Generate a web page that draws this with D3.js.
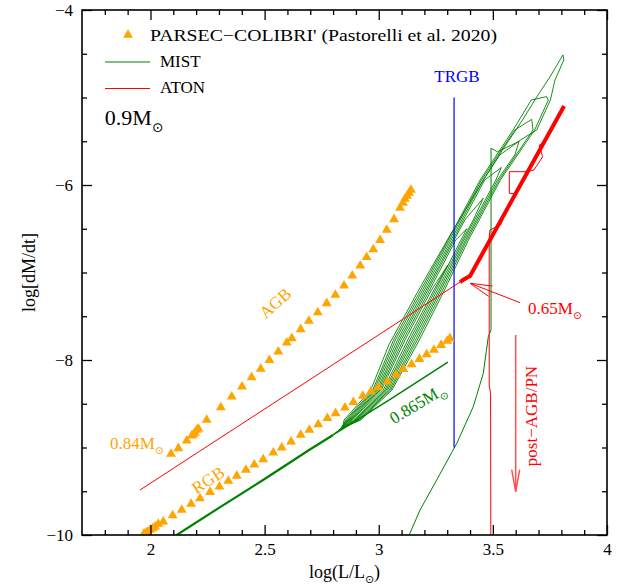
<!DOCTYPE html>
<html>
<head>
<meta charset="utf-8">
<script src="https://cdn.jsdelivr.net/npm/d3@7"></script>
<style>
  body { margin: 0; background: #fff; }
  svg { display: block; font-family: "Liberation Serif", "DejaVu Serif", serif; }
</style>
</head>
<body>
<svg id="chart" width="627" height="586"></svg>
<script>
// ---- axis ticks ----
const xMajorTicks = [2, 2.5, 3, 3.5, 4];
const xMinorTicks = [1.8, 1.9, 2.1, 2.2, 2.3, 2.4, 2.6, 2.7, 2.8, 2.9, 3.1, 3.2, 3.3, 3.4, 3.6, 3.7, 3.8, 3.9];
const yMajorTicks = [-10, -8, -6, -4];
const yMinorTicks = [-9.5, -9, -8.5, -7.5, -7, -6.5, -5.5, -5, -4.5];

// ---- PARSEC-COLIBRI' 0.84 Msun: AGB sequence ----
const parsecAgbLum  = [2.090, 2.122, 2.159, 2.181, 2.188, 2.195, 2.203, 2.210, 2.246, 2.308, 2.356, 2.401, 2.443, 2.483, 2.521, 2.560, 2.597, 2.619, 2.658, 2.694, 2.733, 2.772, 2.810, 2.848, 2.884, 2.919, 2.947, 2.976, 3.006, 3.035, 3.067, 3.093, 3.106, 3.115, 3.124, 3.133, 3.141];
const parsecAgbRate = [-9.074, -9.009, -8.922, -8.865, -8.850, -8.830, -8.800, -8.785, -8.686, -8.541, -8.419, -8.305, -8.198, -8.103, -8.003, -7.905, -7.802, -7.752, -7.649, -7.554, -7.455, -7.352, -7.257, -7.151, -7.037, -6.922, -6.826, -6.735, -6.629, -6.514, -6.392, -6.263, -6.206, -6.160, -6.126, -6.091, -6.057];

// ---- PARSEC-COLIBRI' 0.84 Msun: RGB sequence ----
const parsecRgbLum  = [1.970, 1.976, 1.985, 1.998, 2.010, 2.020, 2.034, 2.056, 2.097, 2.137, 2.178, 2.217, 2.261, 2.302, 2.341, 2.378, 2.418, 2.455, 2.494, 2.538, 2.575, 2.616, 2.658, 2.696, 2.735, 2.775, 2.811, 2.852, 2.889, 2.930, 2.965, 2.998, 3.038, 3.076, 3.108, 3.144, 3.178, 3.210, 3.242, 3.273, 3.300, 3.312];
const parsecRgbRate = [-9.990, -9.981, -9.965, -9.943, -9.925, -9.905, -9.874, -9.848, -9.775, -9.714, -9.646, -9.581, -9.509, -9.448, -9.383, -9.326, -9.257, -9.197, -9.135, -9.059, -9.002, -8.934, -8.857, -8.800, -8.735, -8.666, -8.609, -8.545, -8.483, -8.411, -8.362, -8.312, -8.248, -8.171, -8.106, -8.049, -7.989, -7.935, -7.886, -7.829, -7.783, -7.752];

// ---- MIST 0.9 Msun track ----
const mistRgbLum  = [2.115, 2.30, 2.50, 2.70, 2.80];
const mistRgbRate = [-10.0, -9.69, -9.36, -9.02, -8.857];
const mistTipLum  = [2.80, 3.05, 3.303];
const mistTipRate = [-8.857, -8.45, -8.023];
// thermal pulses on the AGB, one [logL, logMdot] list per pulse
const mistPulses = [
  [[2.800,-8.857],[2.884,-8.686],[3.011,-8.343],[3.115,-7.771],[3.231,-7.2],[3.303,-6.914],[3.242,-7.2],[3.127,-7.771],[3.020,-8.343],[2.891,-8.686],[2.806,-8.845]],
  [[2.806,-8.845],[2.879,-8.686],[3.005,-8.343],[3.107,-7.771],[3.223,-7.2],[3.337,-6.629],[3.386,-6.500],[3.360,-6.629],[3.249,-7.2],[3.136,-7.771],[3.027,-8.343],[2.896,-8.686],[2.812,-8.833]],
  [[2.812,-8.833],[2.874,-8.686],[2.999,-8.343],[3.098,-7.771],[3.215,-7.2],[3.330,-6.629],[3.377,-6.400],[3.458,-6.150],[3.414,-6.400],[3.367,-6.629],[3.257,-7.2],[3.144,-7.771],[3.033,-8.343],[2.901,-8.686],[2.818,-8.821]],
  [[2.818,-8.821],[2.870,-8.686],[2.993,-8.343],[3.090,-7.771],[3.208,-7.2],[3.324,-6.629],[3.464,-5.943],[3.537,-5.800],[3.513,-5.943],[3.373,-6.629],[3.265,-7.2],[3.152,-7.771],[3.039,-8.343],[2.906,-8.686],[2.824,-8.809]],
  [[2.824,-8.809],[2.865,-8.686],[2.986,-8.343],[3.082,-7.771],[3.200,-7.2],[3.317,-6.629],[3.457,-5.943],[3.530,-5.657],[3.615,-5.500],[3.596,-5.657],[3.520,-5.943],[3.380,-6.629],[3.272,-7.2],[3.161,-7.771],[3.046,-8.343],[2.911,-8.686],[2.830,-8.797]],
  [[2.830,-8.797],[2.860,-8.686],[2.980,-8.343],[3.073,-7.771],[3.192,-7.2],[3.310,-6.629],[3.450,-5.943],[3.596,-5.371],[3.670,-5.250],[3.676,-5.371],[3.527,-5.943],[3.386,-6.629],[3.280,-7.2],[3.169,-7.771],[3.052,-8.343],[2.916,-8.686],[2.836,-8.785]],
  [[2.836,-8.785],[2.855,-8.686],[2.974,-8.343],[3.065,-7.771],[3.184,-7.2],[3.304,-6.629],[3.444,-5.943],[3.589,-5.371],[3.668,-5.029],[3.735,-4.990],[3.743,-5.029],[3.683,-5.371],[3.533,-5.943],[3.393,-6.629],[3.288,-7.2],[3.178,-7.771],[3.058,-8.343],[2.921,-8.686],[2.842,-8.773]],
  [[2.842,-8.773],[2.848,-8.686],[2.965,-8.343],[3.044,-7.829],[3.175,-7.2],[3.318,-6.549],[3.440,-6.023],[3.542,-5.6],[3.630,-5.257],[3.692,-4.994],[3.750,-4.766],[3.807,-4.514],[3.811,-4.571],[3.772,-4.80],[3.752,-5.029],[3.692,-5.371],[3.600,-5.52],[3.520,-5.62],[3.492,-5.58]]
];
const mistPostLum  = [3.492, 3.492, 3.480, 3.458, 3.414, 3.342, 3.254, 3.181, 3.130];
const mistPostRate = [-5.58, -7.657, -7.734, -8.152, -8.534, -8.952, -9.371, -9.714, -10.02];

// ---- ATON 0.9 Msun track ----
const atonRgbLum  = [1.954, 3.356];
const atonRgbRate = [-9.486, -7.109];
const atonTpLum   = [3.356, 3.372, 3.400, 3.812];
const atonTpRate  = [-7.109, -7.080, -7.040, -5.097];
const atonLoopLum  = [3.603, 3.572, 3.572, 3.648, 3.680, 3.718, 3.703, 3.720];
const atonLoopRate = [-6.100, -6.095, -5.848, -5.848, -5.829, -5.677, -5.543, -5.520];
const atonPostLum  = [3.556, 3.534, 3.487, 3.484, 3.484, 3.490, 3.491];
const atonPostRate = [-6.305, -6.457, -6.514, -6.600, -8.286, -8.381, -10.0];

// ---- TRGB marker ----
const trgbLum = 3.33;
const trgbRate = [-9.0, -5.0];

// ---- annotation arrows [from, to] ----
const finalMassArrow = [[3.619, -7.345], [3.400, -7.123]];
const postAgbArrow   = [[3.600, -7.714], [3.600, -9.505]];

const COLORS = { parsec: "#FFA500", mist: "#008000", aton: "#FF0000", trgb: "#0000FF" };

const svg = d3.select("#chart");
const width = 627, height = 586;
const margin = { left: 82, right: 20, top: 10, bottom: 51 };

const x = d3.scaleLinear().domain([1.7, 4]).range([margin.left, width - margin.right]);
const y = d3.scaleLinear().domain([-10, -4]).range([height - margin.bottom, margin.top]);

svg.append("rect").attr("width", width).attr("height", height).attr("fill", "#fff");

svg.append("defs").append("clipPath").attr("id", "plot-clip")
  .append("rect")
  .attr("x", x(1.7)).attr("y", y(-4))
  .attr("width", x(4) - x(1.7)).attr("height", y(-10) - y(-4));

const line = d3.line().x(d => x(d[0])).y(d => y(d[1]));
const plot = svg.append("g").attr("clip-path", "url(#plot-clip)");

// MIST
plot.append("path").datum(d3.zip(mistRgbLum, mistRgbRate))
  .attr("d", line).attr("fill", "none").attr("stroke", COLORS.mist).attr("stroke-width", 2.2);
plot.append("path").datum(d3.zip(mistTipLum, mistTipRate))
  .attr("d", line).attr("fill", "none").attr("stroke", COLORS.mist).attr("stroke-width", 1.5);
plot.selectAll(".pulse").data(mistPulses).join("path").attr("class", "pulse")
  .attr("d", line).attr("fill", "none").attr("stroke", COLORS.mist).attr("stroke-width", 0.9)
  .attr("stroke-linejoin", "round");
plot.append("path").datum(d3.zip(mistPostLum, mistPostRate))
  .attr("d", line).attr("fill", "none").attr("stroke", COLORS.mist).attr("stroke-width", 1);

// ATON
plot.append("path").datum(d3.zip(atonRgbLum, atonRgbRate))
  .attr("d", line).attr("fill", "none").attr("stroke", COLORS.aton).attr("stroke-width", 1);
plot.append("path").datum(d3.zip(atonPostLum, atonPostRate))
  .attr("d", line).attr("fill", "none").attr("stroke", COLORS.aton).attr("stroke-width", 1);
plot.append("path").datum(d3.zip(atonLoopLum, atonLoopRate))
  .attr("d", line).attr("fill", "none").attr("stroke", COLORS.aton).attr("stroke-width", 1);
plot.append("path").datum(d3.zip(atonTpLum, atonTpRate))
  .attr("d", line).attr("fill", "none").attr("stroke", COLORS.aton).attr("stroke-width", 4);

// TRGB
plot.append("line")
  .attr("x1", x(trgbLum)).attr("x2", x(trgbLum))
  .attr("y1", y(trgbRate[0])).attr("y2", y(trgbRate[1]))
  .attr("stroke", COLORS.trgb).attr("stroke-width", 1.2);

// PARSEC triangles
const tri = d3.symbol().type(d3.symbolTriangle).size(42);
plot.selectAll(".agb").data(d3.zip(parsecAgbLum, parsecAgbRate)).join("path")
  .attr("class", "agb").attr("d", tri)
  .attr("transform", d => `translate(${x(d[0])},${y(d[1])})`).attr("fill", COLORS.parsec);
plot.selectAll(".rgb").data(d3.zip(parsecRgbLum, parsecRgbRate)).join("path")
  .attr("class", "rgb").attr("d", tri)
  .attr("transform", d => `translate(${x(d[0])},${y(d[1])})`).attr("fill", COLORS.parsec);

// arrows
function arrow(g, pts, color, headLen, headHalf, width) {
  const [p0, p1] = pts.map(p => [x(p[0]), y(p[1])]);
  const ang = Math.atan2(p1[1] - p0[1], p1[0] - p0[0]);
  const bx = p1[0] - headLen * Math.cos(ang), by = p1[1] - headLen * Math.sin(ang);
  const nx = -Math.sin(ang) * headHalf, ny = Math.cos(ang) * headHalf;
  g.append("line").attr("x1", p0[0]).attr("y1", p0[1]).attr("x2", p1[0]).attr("y2", p1[1])
    .attr("stroke", color).attr("stroke-width", width);
  g.append("path")
    .attr("d", `M${bx + nx},${by + ny}L${p1[0]},${p1[1]}L${bx - nx},${by - ny}`)
    .attr("fill", "none").attr("stroke", color).attr("stroke-width", width);
}
arrow(svg, finalMassArrow, COLORS.aton, 22, 5.5, 1);
arrow(svg, postAgbArrow, "#ff5050", 22, 4, 1.5);

// ---- axes ----
const axes = svg.append("g");
function styleAxis(g) {
  g.select(".domain").remove();
  g.selectAll(".tick line").attr("stroke", "#000").attr("stroke-width", 1.3);
  g.selectAll(".tick text").attr("fill", "#000").attr("font-size", 17)
    .attr("font-family", "Liberation Serif, DejaVu Serif, serif");
}
const fmtX = d3.format("");
axes.append("g").attr("transform", `translate(0,${y(-10)})`)
  .call(d3.axisBottom(x).tickValues(xMajorTicks).tickSize(-10).tickPadding(8).tickFormat(fmtX)).call(styleAxis);
axes.append("g").attr("transform", `translate(0,${y(-10)})`)
  .call(d3.axisBottom(x).tickValues(xMinorTicks).tickSize(-5).tickFormat("")).call(styleAxis);
axes.append("g").attr("transform", `translate(0,${y(-4)})`)
  .call(d3.axisTop(x).tickValues(xMajorTicks).tickSize(-10).tickFormat("")).call(styleAxis);
axes.append("g").attr("transform", `translate(0,${y(-4)})`)
  .call(d3.axisTop(x).tickValues(xMinorTicks).tickSize(-5).tickFormat("")).call(styleAxis);
axes.append("g").attr("transform", `translate(${x(1.7)},0)`)
  .call(d3.axisLeft(y).tickValues(yMajorTicks).tickSize(-10).tickPadding(9).tickFormat(d3.format("d"))).call(styleAxis);
axes.append("g").attr("transform", `translate(${x(1.7)},0)`)
  .call(d3.axisLeft(y).tickValues(yMinorTicks).tickSize(-5).tickFormat("")).call(styleAxis);
axes.append("g").attr("transform", `translate(${x(4)},0)`)
  .call(d3.axisRight(y).tickValues(yMajorTicks).tickSize(-10).tickFormat("")).call(styleAxis);
axes.append("g").attr("transform", `translate(${x(4)},0)`)
  .call(d3.axisRight(y).tickValues(yMinorTicks).tickSize(-5).tickFormat("")).call(styleAxis);

svg.append("rect")
  .attr("x", x(1.7)).attr("y", y(-4))
  .attr("width", x(4) - x(1.7)).attr("height", y(-10) - y(-4))
  .attr("fill", "none").attr("stroke", "#000").attr("stroke-width", 1.6);

// ---- text helpers ----
const SUN = "\u2299";
function sunLabel(g, base, size) {
  const t = g.append("text").attr("font-size", size);
  t.append("tspan").text(base);
  t.append("tspan").text(SUN).attr("font-size", size * 0.62).attr("dy", size * 0.3)
    .attr("font-family", "DejaVu Sans, sans-serif");
  return t;
}

// axis titles
const xt = svg.append("text").attr("x", (x(1.7) + x(4)) / 2).attr("y", 578)
  .attr("text-anchor", "middle").attr("font-size", 18);
xt.append("tspan").text("log(L/L");
xt.append("tspan").text(SUN).attr("font-size", 11).attr("dy", 5).attr("font-family", "DejaVu Sans, sans-serif");
xt.append("tspan").text(")").attr("dy", -5);

svg.append("text").attr("transform", `translate(35,${(y(-4) + y(-10)) / 2}) rotate(-90)`)
  .attr("text-anchor", "middle").attr("font-size", 18).text("log[dM/dt]");

// legend
const leg = svg.append("g").attr("font-size", 17);
leg.append("path").attr("d", d3.symbol().type(d3.symbolTriangle).size(42))
  .attr("transform", "translate(128,35)").attr("fill", COLORS.parsec);
leg.append("text").attr("x", 150).attr("y", 41)
  .attr("textLength", 347).attr("lengthAdjust", "spacingAndGlyphs")
  .text("PARSEC\u2212COLIBRI' (Pastorelli et al. 2020)");
leg.append("line").attr("x1", 105).attr("x2", 150).attr("y1", 62).attr("y2", 62)
  .attr("stroke", COLORS.mist).attr("stroke-width", 1);
leg.append("text").attr("x", 160).attr("y", 67).text("MIST");
leg.append("line").attr("x1", 105).attr("x2", 150).attr("y1", 88.5).attr("y2", 88.5)
  .attr("stroke", COLORS.aton).attr("stroke-width", 1);
leg.append("text").attr("x", 160).attr("y", 93).text("ATON");

sunLabel(svg, "0.9M", 22).attr("x", x(1.80)).attr("y", y(-5.314));

// in-plot labels
svg.append("text").attr("x", x(3.343)).attr("y", y(-4.823)).attr("text-anchor", "middle")
  .attr("font-size", 17).attr("fill", COLORS.trgb).text("TRGB");

svg.append("text").attr("transform", `translate(${x(2.546)},${y(-7.349)}) rotate(-42)`)
  .attr("text-anchor", "middle").attr("dy", "0.35em").attr("font-size", 17).attr("fill", COLORS.parsec).text("AGB");
svg.append("text").attr("transform", `translate(${x(2.252)},${y(-9.371)}) rotate(-33)`)
  .attr("text-anchor", "middle").attr("dy", "0.35em").attr("font-size", 17).attr("fill", COLORS.parsec).text("RGB");

sunLabel(svg, "0.84M", 17).attr("x", x(1.823)).attr("y", y(-9.017)).attr("fill", COLORS.parsec);

sunLabel(svg, "0.865M", 17).attr("text-anchor", "middle")
  .attr("transform", `translate(${x(3.172)},${y(-8.503)}) rotate(-31)`).attr("dy", "0.3em")
  .attr("fill", COLORS.mist);

sunLabel(svg, "0.65M", 17).attr("x", x(3.654)).attr("y", y(-7.474)).attr("fill", COLORS.aton);

svg.append("text").attr("transform", `translate(${x(3.667)},${y(-8.64)}) rotate(-90)`)
  .attr("text-anchor", "middle").attr("dy", "0.35em").attr("font-size", 17).attr("fill", COLORS.aton)
  .text("post\u2212AGB/PN");
</script>
</body>
</html>
